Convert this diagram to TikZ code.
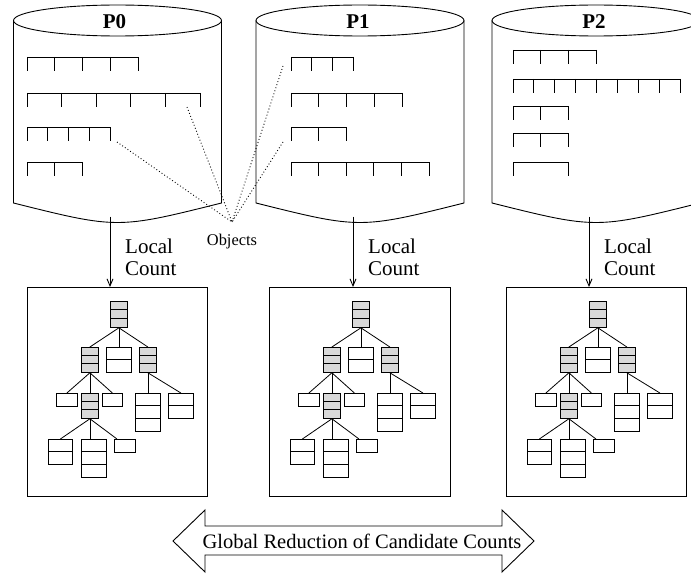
\documentclass[tikz,border=0pt]{standalone}
\usepackage{fontspec}
\setmainfont{Liberation Serif}
\usetikzlibrary{calc,arrows.meta}
\definecolor{nodegray}{RGB}{217,217,217}
\tikzset{
  cyl/.style={draw, line width=0.9pt},
  rec/.style={line width=0.9pt},
  tbox/.style={draw, line width=0.9pt, inner sep=0, anchor=north west},
  cell/.style={draw, line width=0.8pt, inner sep=0, anchor=north west},
  tedge/.style={line width=0.8pt},
  objline/.style={line width=0.9pt, dash pattern=on 0.9pt off 2.3pt},
  flow/.style={line width=0.9pt, -{Straight Barb[length=7pt,width=6pt]}},
  lbl/.style={font=\fontsize{21}{22}\selectfont, align=left, inner sep=0, anchor=north west},
  plbl/.style={font=\fontsize{21}{22}\selectfont\bfseries, inner sep=0, anchor=base},
}
\newcommand\cylinder[2]{%
  \draw[cyl] (#2,20.5) ellipse [x radius=104, y radius=15.5];
  \draw[cyl] (#2-104,20.5) -- (#2-104,203) .. controls (#2,229) .. (#2+104,203) -- (#2+104,20.5);
  \coordinate (#1) at (#2,203);
}
\newcommand\rrow[4]{%
  \draw[rec] (#1,#2) -- ++({#3*#4},0);
  \foreach \k in {0,...,#3} \draw[rec] ({#1+\k*#4},#2) -- ++(0,14);
}
\newcommand\tn[7]{%
  \node[cell, fill=#7, minimum width=#4, minimum height={#5*#6}] (#1) at (#2,#3) {};
  \ifnum#5>1
    \foreach \k in {2,...,#5} \draw[tedge] ($(#1.north west)+(0,{(\k-1)*#6})$) -- ++(#4,0);
  \fi
}
\begin{document}
\begin{tikzpicture}[x=1pt,y=-1pt]
\useasboundingbox (0,0) rectangle (691,578);
\clip (0,0) rectangle (691,578);

% cylinders
\cylinder{cyl0}{117.5}
\cylinder{cyl1}{360}
\cylinder{cyl2}{596}
\node[plbl] (p0) at (114.5,29) {P0};
\node[plbl] (p1) at (358,29) {P1};
\node[plbl] (p2) at (594,29) {P2};

% records
\rrow{27}{57}{4}{27.75}
\rrow{27}{93}{5}{34.6}
\rrow{27}{127}{4}{20.75}
\rrow{27}{162}{2}{27.5}

\rrow{291}{57}{3}{20.7}
\rrow{291}{93}{4}{27.75}
\rrow{291}{127}{2}{27.5}
\rrow{291}{162}{5}{27.6}

\rrow{513}{50}{3}{27.7}
\rrow{513}{79}{8}{20.9}
\rrow{513}{106}{2}{27.5}
\rrow{513}{133}{2}{27.5}
\rrow{513}{162}{1}{55}

% objects
\coordinate (obj) at (232,222);
\coordinate (o1) at (187,107);
\coordinate (o2) at (117,142);
\coordinate (o3) at (283,66);
\coordinate (o4) at (283,142);
\draw[objline] (o1) -- (obj);
\draw[objline] (o2) -- (obj);
\draw[objline] (o3) -- (obj);
\draw[objline] (o4) -- (obj);
\node[font=\fontsize{16.4}{18}\selectfont, anchor=base, inner sep=0] (objl) at (232,245) {Objects};

% boxes
\node[tbox, minimum width=180, minimum height=209] (box0) at (27,287) {};
\node[tbox, minimum width=181, minimum height=209] (box1) at (269,287) {};
\node[tbox, minimum width=180, minimum height=209] (box2) at (506,287) {};

% local count arrows
\coordinate (a0) at (110,216.5);
\coordinate (a1) at (353,216.5);
\coordinate (a2) at (589,216.5);
\draw[flow] (a0) -- (a0 |- box0.north);
\draw[flow] (a1) -- (a1 |- box1.north);
\draw[flow] (a2) -- (a2 |- box2.north);
\node[lbl] (lc0) at (125,238.7) {Local\\Count};
\node[lbl] (lc1) at (368,238.7) {Local\\Count};
\node[lbl] (lc2) at (604,238.7) {Local\\Count};

% trees
\foreach \i/\dx in {0/0,1/242,2/479}{
\begin{scope}[shift={(\dx,0)}]
  \tn{R\i}{110}{301}{17}{3}{8.67}{nodegray}
  \tn{A\i}{81}{347}{17}{3}{8.33}{nodegray}
  \tn{B\i}{106}{347}{25}{2}{12.5}{white}
  \tn{C\i}{139}{347}{17}{3}{8.33}{nodegray}
  \tn{D\i}{56}{393}{21}{1}{12.5}{white}
  \tn{E\i}{81}{393}{17}{3}{8.33}{nodegray}
  \tn{F\i}{102}{393}{20}{1}{12.5}{white}
  \tn{G\i}{135}{393}{25}{3}{12.67}{white}
  \tn{H\i}{168}{393}{25}{2}{12.5}{white}
  \tn{I\i}{48}{439}{24}{2}{12.5}{white}
  \tn{J\i}{81}{439}{25}{3}{12.67}{white}
  \tn{K\i}{114}{439}{21}{1}{13}{white}
  \draw[tedge] (R\i.south) -- (A\i.north);
  \draw[tedge] (R\i.south) -- (B\i.north);
  \draw[tedge] (R\i.south) -- (C\i.north);
  \draw[tedge] (A\i.south) -- (D\i.north);
  \draw[tedge] (A\i.south) -- (E\i.north);
  \draw[tedge] (A\i.south) -- (F\i.north);
  \draw[tedge] (C\i.south) -- (C\i.south |- G\i.north);
  \draw[tedge] (C\i.south) -- (H\i.north);
  \draw[tedge] (E\i.south) -- (I\i.north);
  \draw[tedge] (E\i.south) -- (E\i.south |- J\i.north);
  \draw[tedge] (E\i.south) -- ($(K\i.north west)+(3,0)$);
\end{scope}
}

% global reduction double arrow
\draw[line width=0.9pt, line join=miter] (173,541) -- (205,510) -- (205,526) -- (502,526) -- (502,510) -- (534,541) -- (502,572) -- (502,555) -- (205,555) -- (205,572) -- cycle;
\node[font=\fontsize{20.5}{22}\selectfont, anchor=base, inner sep=0] (glob) at (362,548) {Global Reduction of Candidate Counts};
\end{tikzpicture}
\end{document}
